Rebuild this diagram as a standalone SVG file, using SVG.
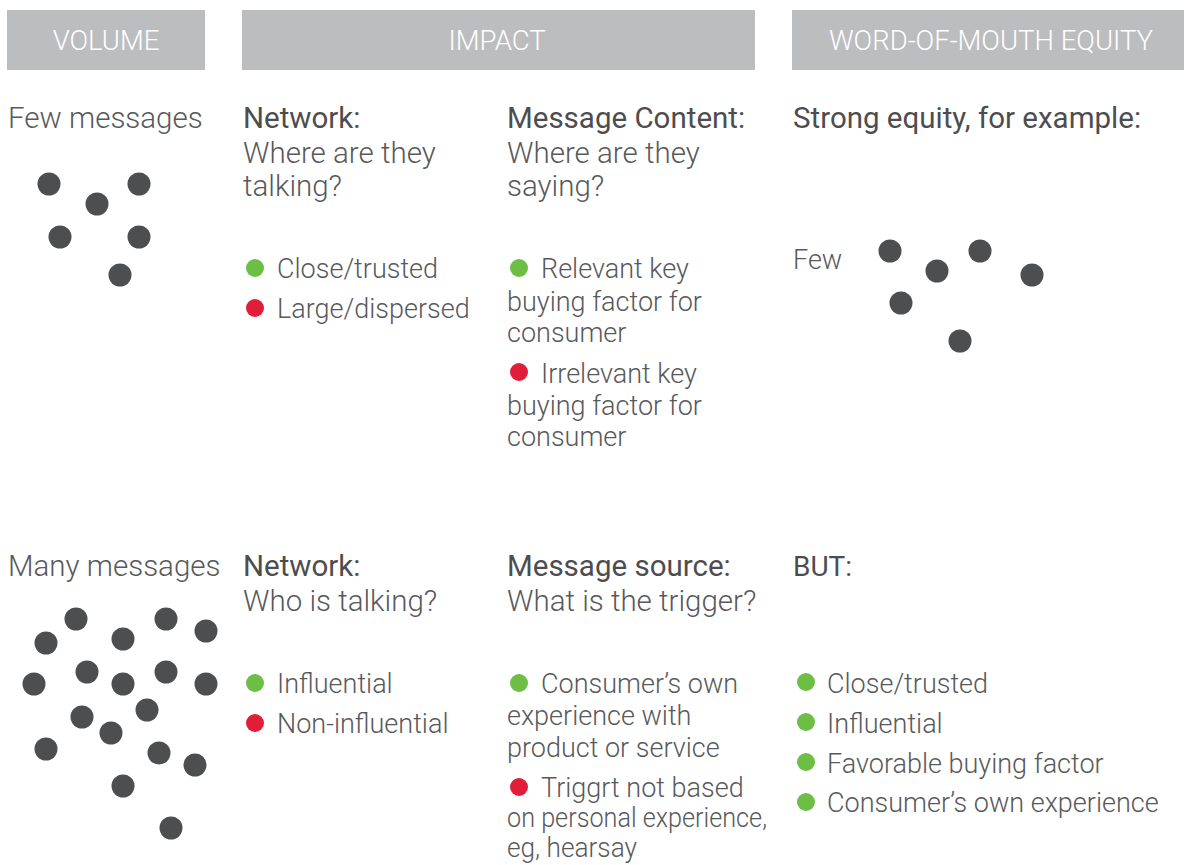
<svg xmlns="http://www.w3.org/2000/svg" width="1184" height="865" viewBox="0 0 1184 865">
<style>
text{font-family:Roboto,"Liberation Sans",sans-serif;font-size:27px;fill:#58595b;font-weight:300}
.hdr{fill:#bcbdbf}
.ht{fill:#ffffff;text-anchor:middle;font-weight:300;font-size:27.5px}
.h{font-weight:400;fill:#4d4d4f;font-size:29.5px}
.q{font-size:29.5px}
.d{fill:#4d4e50}
.g{fill:#6cbe45}
.r{fill:#e01e37}
</style>
<g id="header-volume"><rect class="hdr" x="7" y="10" width="198" height="60"/><text class="ht" x="106" y="50">VOLUME</text></g>
<g id="header-impact"><rect class="hdr" x="242" y="10" width="513" height="60"/><text class="ht" x="497" y="50">IMPACT</text></g>
<g id="header-wom"><rect class="hdr" x="792" y="10" width="392" height="60"/><text class="ht" x="991" y="50">WORD-OF-MOUTH EQUITY</text></g>

<g id="few-messages">
<text class="q" x="8" y="128">Few messages</text>
<circle class="d" cx="49" cy="184" r="11.5"/><circle class="d" cx="139" cy="184" r="11.5"/><circle class="d" cx="97" cy="204" r="11.5"/>
<circle class="d" cx="60" cy="237" r="11.5"/><circle class="d" cx="139" cy="237" r="11.5"/><circle class="d" cx="120" cy="275" r="11.5"/>
</g>

<g id="network-where">
<text class="h" x="243" y="128">Network:</text>
<text class="q" x="243" y="163">Where are they</text>
<text class="q" x="243" y="196">talking?</text>
<circle class="g" cx="255" cy="268" r="9"/><text x="277" y="278">Close/trusted</text>
<circle class="r" cx="255" cy="308" r="9"/><text x="277" y="318">Large/dispersed</text>
</g>

<g id="message-content">
<text class="h" x="507" y="128">Message Content:</text>
<text class="q" x="507" y="163">Where are they</text>
<text class="q" x="507" y="196">saying?</text>
<circle class="g" cx="519" cy="268" r="9"/><text x="541" y="278">Relevant key</text>
<text x="507" y="311">buying factor for</text>
<text x="507" y="342">consumer</text>
<circle class="r" cx="519" cy="372" r="9"/><text x="541" y="383">Irrelevant key</text>
<text x="507" y="415">buying factor for</text>
<text x="507" y="446">consumer</text>
</g>

<g id="strong-equity">
<text class="h" x="793" y="128">Strong equity, for example:</text>
<text x="793" y="269">Few</text>
<circle class="d" cx="890" cy="251" r="11.5"/><circle class="d" cx="980" cy="251" r="11.5"/><circle class="d" cx="937" cy="271" r="11.5"/>
<circle class="d" cx="1032" cy="275" r="11.5"/><circle class="d" cx="901" cy="303" r="11.5"/><circle class="d" cx="960" cy="341" r="11.5"/>
</g>

<g id="many-messages">
<text class="q" x="8" y="576">Many messages</text>
<circle class="d" cx="76" cy="619" r="11.5"/><circle class="d" cx="166" cy="619" r="11.5"/><circle class="d" cx="46" cy="643" r="11.5"/>
<circle class="d" cx="123" cy="639" r="11.5"/><circle class="d" cx="206" cy="631" r="11.5"/><circle class="d" cx="34" cy="684" r="11.5"/>
<circle class="d" cx="87" cy="672" r="11.5"/><circle class="d" cx="123" cy="684" r="11.5"/><circle class="d" cx="166" cy="672" r="11.5"/>
<circle class="d" cx="206" cy="684" r="11.5"/><circle class="d" cx="147" cy="710" r="11.5"/><circle class="d" cx="82" cy="717" r="11.5"/>
<circle class="d" cx="111" cy="733" r="11.5"/><circle class="d" cx="46" cy="749" r="11.5"/><circle class="d" cx="159" cy="753" r="11.5"/>
<circle class="d" cx="195" cy="765" r="11.5"/><circle class="d" cx="123" cy="786" r="11.5"/><circle class="d" cx="171" cy="828" r="11.5"/>
</g>

<g id="network-who">
<text class="h" x="243" y="576">Network:</text>
<text class="q" x="243" y="611">Who is talking?</text>
<circle class="g" cx="255" cy="683" r="9"/><text x="277" y="693">Influential</text>
<circle class="r" cx="255" cy="723" r="9"/><text x="277" y="733">Non-influential</text>
</g>

<g id="message-source">
<text class="h" x="507" y="576">Message source:</text>
<text class="q" x="507" y="611">What is the trigger?</text>
<circle class="g" cx="519" cy="683" r="9"/><text x="541" y="693">Consumer’s own</text>
<text x="507" y="725">experience with</text>
<text x="507" y="757">product or service</text>
<circle class="r" cx="519" cy="787" r="9"/><text x="541" y="797">Triggrt not based</text>
<text x="507" y="827" textLength="260" lengthAdjust="spacingAndGlyphs">on personal experience,</text>
<text x="507" y="857" textLength="130" lengthAdjust="spacingAndGlyphs">eg, hearsay</text>
</g>

<g id="but">
<text class="h" x="793" y="576" style="font-size:28px">BUT:</text>
<circle class="g" cx="806" cy="682" r="9"/><text x="827" y="693">Close/trusted</text>
<circle class="g" cx="806" cy="722" r="9"/><text x="827" y="733">Influential</text>
<circle class="g" cx="806" cy="762" r="9"/><text x="827" y="773">Favorable buying factor</text>
<circle class="g" cx="806" cy="802" r="9"/><text x="827" y="812">Consumer’s own experience</text>
</g>

<g id="connectors"/>
</svg>
